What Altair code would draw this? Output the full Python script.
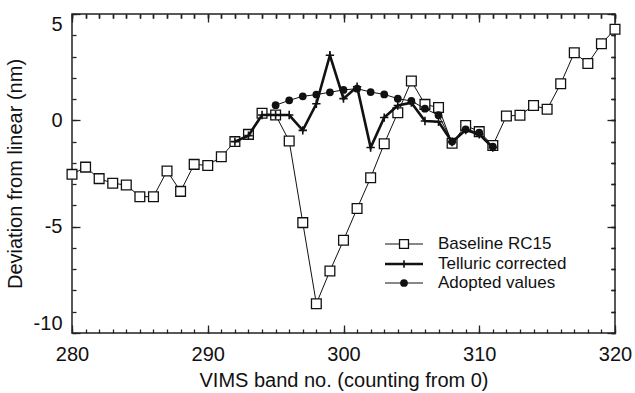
import altair as alt
import pandas as pd

# ---- data ----
bands_base = list(range(280, 321))
baseline = [-2.54, -2.20, -2.74, -2.96, -3.04, -3.59, -3.59, -2.38, -3.34, -2.07,
            -2.12, -1.71, -1.00, -0.66, 0.33, 0.25, -0.97, -4.81, -8.62, -7.08,
            -5.64, -4.15, -2.70, -1.10, 0.36, 1.85, 0.75, 0.60, -1.08, -0.24,
            -0.53, -1.18, 0.20, 0.24, 0.70, 0.52, 1.72, 3.18, 2.67, 3.60, 4.28]

bands_tell = list(range(292, 312))
telluric = [-1.00, -0.72, 0.25, 0.25, 0.25, -0.47, 0.78, 3.06, 1.02, 1.58,
            -1.28, 0.13, 0.70, 0.83, -0.03, -0.07, -1.02, -0.46, -0.66, -1.28]

bands_adopt = list(range(295, 312))
adopted = [0.71, 0.94, 1.13, 1.21, 1.32, 1.43, 1.49, 1.33, 1.22, 1.02,
           0.91, 0.55, 0.24, -1.00, -0.42, -0.58, -1.24]

x_major = [280, 290, 300, 310, 320]
x_minor = list(range(280, 321))
y_major = [-10, -5, 0, 5]
y_minor = list(range(-10, 6))

legend_labels = ["Baseline RC15", "Telluric corrected", "Adopted values"]

FONT = "Liberation Sans"
INK = "#111111"
PLUS = "M-1,0L1,0M0,-1L0,1"

base_df = pd.DataFrame({"band": bands_base, "dev": baseline})
tell_df = pd.DataFrame({"band": bands_tell, "dev": telluric})
adopt_df = pd.DataFrame({"band": bands_adopt, "dev": adopted})

xs = alt.Scale(domain=[280, 320], nice=False, zero=False)
ys = alt.Scale(domain=[-10, 5], nice=False, zero=False)

MAJ, MIN = 8, 4
tick_style = dict(domain=False, grid=False, tickColor="#222222", tickWidth=1.3, zindex=1)

x_bottom_major = alt.Axis(orient="bottom", values=x_major, tickSize=MAJ, offset=-MAJ,
                          labelPadding=11, labelFontSize=20, labelFont=FONT, labelColor=INK,
                          labelFlush=False,
                          title="VIMS band no. (counting from 0)", titleFontSize=20,
                          titleFont=FONT, titleColor=INK, titleFontWeight="normal",
                          titlePadding=6, **tick_style)
x_bottom_minor = alt.Axis(orient="bottom", values=x_minor, tickSize=MIN, offset=-MIN,
                          labels=False, title=None, **tick_style)
x_top_major = alt.Axis(orient="top", values=x_major, tickSize=MAJ, offset=-MAJ,
                       labels=False, title=None, **tick_style)
x_top_minor = alt.Axis(orient="top", values=x_minor, tickSize=MIN, offset=-MIN,
                       labels=False, title=None, **tick_style)

y_left_major = alt.Axis(orient="left", values=y_major, tickSize=MAJ, offset=-MAJ,
                        labelPadding=10, labelFontSize=20, labelFont=FONT, labelColor=INK,
                        labelExpr="'' + datum.value", labelFlush=True,
                        title="Deviation from linear (nm)", titleFontSize=20,
                        titleFont=FONT, titleColor=INK, titleFontWeight="normal",
                        titlePadding=8, **tick_style)
y_left_minor = alt.Axis(orient="left", values=y_minor, tickSize=MIN, offset=-MIN,
                        labels=False, title=None, **tick_style)
y_right_major = alt.Axis(orient="right", values=y_major, tickSize=MAJ, offset=-MAJ,
                         labels=False, title=None, **tick_style)
y_right_minor = alt.Axis(orient="right", values=y_minor, tickSize=MIN, offset=-MIN,
                         labels=False, title=None, **tick_style)


def enc(xaxis, yaxis):
    return dict(
        x=alt.X("band:Q", scale=xs, axis=xaxis),
        y=alt.Y("dev:Q", scale=ys, axis=yaxis),
    )


base_line = alt.Chart(base_df).mark_line(color=INK, strokeWidth=1).encode(
    **enc(x_bottom_major, y_left_major))
base_pts = alt.Chart(base_df).mark_point(shape="square", size=95, filled=True, fill="white",
                                         stroke=INK, strokeWidth=1.3, opacity=1).encode(
    **enc(x_bottom_minor, y_left_minor))
tell_line = alt.Chart(tell_df).mark_line(color=INK, strokeWidth=2.6).encode(
    **enc(x_top_major, y_right_major))
tell_pts = alt.Chart(tell_df).mark_point(shape=PLUS, size=70, filled=False,
                                         stroke=INK, strokeWidth=1.6, opacity=1).encode(
    **enc(x_top_minor, y_right_minor))
adopt_line = alt.Chart(adopt_df).mark_line(color=INK, strokeWidth=1).encode(
    **enc(x_top_minor, y_right_minor))
adopt_pts = alt.Chart(adopt_df).mark_point(shape="circle", size=60, filled=True,
                                           color=INK, opacity=1).encode(
    **enc(x_top_minor, y_right_minor))

# ---- legend (drawn inside the plot) ----
lx0, lx1, lmk, ltx = 313, 351, 332, 366
rows_y = [230, 250, 269]
leg_layers = []
styles = [
    dict(sw=1, mark=dict(shape="square", size=80, filled=True, fill="white", stroke=INK, strokeWidth=1.3)),
    dict(sw=2.6, mark=dict(shape=PLUS, size=60, filled=False, stroke=INK, strokeWidth=1.6)),
    dict(sw=1, mark=dict(shape="circle", size=60, filled=True, color=INK)),
]
for lab, yy, st in zip(legend_labels, rows_y, styles):
    ldf = pd.DataFrame({"label": [lab]})
    leg_layers.append(alt.Chart(ldf).mark_rule(color=INK, strokeWidth=st["sw"]).encode(
        x=alt.value(lx0), x2=alt.value(lx1), y=alt.value(yy)))
    leg_layers.append(alt.Chart(ldf).mark_point(opacity=1, **st["mark"]).encode(
        x=alt.value(lmk), y=alt.value(yy)))
    leg_layers.append(alt.Chart(ldf).mark_text(align="left", baseline="middle", font=FONT,
                                               fontSize=17, color=INK).encode(
        x=alt.value(ltx), y=alt.value(yy), text="label:N"))

chart = alt.layer(
    base_line, base_pts, tell_line, tell_pts, adopt_line, adopt_pts, *leg_layers
).resolve_axis(x="independent", y="independent").properties(
    width=543, height=319,
    autosize=alt.AutoSizeParams(type="none"),
    padding={"left": 72, "top": 14, "right": 20, "bottom": 60},
    background="white",
).configure_view(stroke="#222222", strokeWidth=1.5)

chart.save("out.html", embed_options={"renderer": "svg", "actions": False})
